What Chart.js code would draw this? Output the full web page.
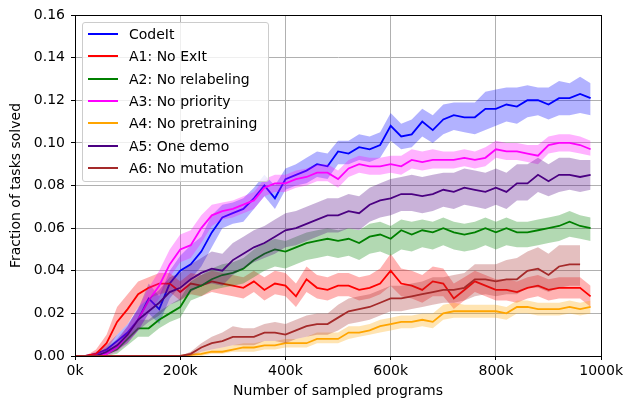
<!DOCTYPE html>
<html>
<head>
<meta charset="utf-8">
<script src="https://cdn.jsdelivr.net/npm/chart.js@4.4.1/dist/chart.umd.min.js"></script>
<style>
  body { margin: 0; background: #fff; }
  #wrap { position: relative; width: 626px; height: 400px; }
  #legend {
    position: absolute; left: 82px; top: 22px; width: 187px; height: 160px;
    background: rgba(255,255,255,0.8); border: 1px solid #cccccc; border-radius: 3px;
    font: 14px "DejaVu Sans", sans-serif; color: #000; box-sizing: border-box;
  }
  .row { position: absolute; left: 0; height: 17px; line-height: 17px; white-space: nowrap; }
  .row span.h { position: absolute; left: 5px; top: 7px; width: 30px; height: 2px; }
  .row span.t { position: absolute; left: 46px; top: 0; }
</style>
</head>
<body>
<div id="wrap">
  <canvas id="myChart" width="626" height="400"></canvas>
  <div id="legend"></div>
</div>
<script>
// sampled programs, in thousands
const steps = [0, 20, 40, 60, 80, 100, 120, 140, 160, 180, 200, 220, 240, 260, 280, 300, 320, 340, 360, 380,
  400, 420, 440, 460, 480, 500, 520, 540, 560, 580, 600, 620, 640, 660, 680, 700, 720, 740, 760, 780,
  800, 820, 840, 860, 880, 900, 920, 940, 960, 980];
const xTickLabels = ['0k', '200k', '400k', '600k', '800k', '1000k'];

const names = ['CodeIt', 'A1: No ExIt', 'A2: No relabeling', 'A3: No priority', 'A4: No pretraining', 'A5: One demo', 'A6: No mutation'];
const colors = ['#0000ff', '#ff0000', '#008000', '#ff00ff', '#ffa500', '#4b0082', '#a52a2a'];

// CodeIt
const codeit = [0, 0, 0.001, 0.003, 0.007, 0.011, 0.017, 0.027, 0.022, 0.034, 0.040, 0.043, 0.049, 0.058, 0.065, 0.067, 0.069, 0.074, 0.080, 0.074,
  0.083, 0.085, 0.087, 0.090, 0.089, 0.096, 0.095, 0.098, 0.097, 0.099, 0.108, 0.103, 0.104, 0.110, 0.106, 0.111, 0.113, 0.112, 0.112, 0.116,
  0.116, 0.118, 0.117, 0.120, 0.120, 0.118, 0.121, 0.121, 0.123, 0.121];
const codeitLo = [0, 0, 0, 0.001, 0.004, 0.007, 0.012, 0.020, 0.015, 0.027, 0.033, 0.036, 0.042, 0.051, 0.060, 0.062, 0.063, 0.069, 0.075, 0.069,
  0.078, 0.080, 0.081, 0.084, 0.083, 0.090, 0.090, 0.092, 0.091, 0.093, 0.101, 0.097, 0.098, 0.103, 0.100, 0.104, 0.106, 0.105, 0.104, 0.106,
  0.108, 0.110, 0.109, 0.112, 0.113, 0.111, 0.113, 0.113, 0.114, 0.113];
const codeitHi = [0, 0, 0.002, 0.005, 0.010, 0.015, 0.022, 0.034, 0.028, 0.040, 0.047, 0.052, 0.056, 0.066, 0.071, 0.072, 0.074, 0.079, 0.085, 0.080,
  0.088, 0.090, 0.093, 0.096, 0.095, 0.101, 0.101, 0.104, 0.103, 0.105, 0.114, 0.109, 0.111, 0.116, 0.113, 0.118, 0.119, 0.119, 0.119, 0.124,
  0.125, 0.126, 0.126, 0.127, 0.126, 0.126, 0.129, 0.128, 0.131, 0.128];

// A1: No ExIt
const noExit = [0, 0, 0.001, 0.006, 0.016, 0.022, 0.029, 0.032, 0.034, 0.034, 0.030, 0.034, 0.033, 0.035, 0.034, 0.033, 0.032, 0.035, 0.031, 0.034,
  0.033, 0.028, 0.036, 0.032, 0.031, 0.033, 0.033, 0.031, 0.032, 0.034, 0.040, 0.034, 0.033, 0.031, 0.035, 0.034, 0.027, 0.031, 0.035, 0.033,
  0.031, 0.031, 0.030, 0.032, 0.033, 0.031, 0.032, 0.032, 0.032, 0.028];
const noExitLo = [0, 0, 0, 0.003, 0.010, 0.015, 0.023, 0.027, 0.029, 0.030, 0.026, 0.029, 0.028, 0.030, 0.029, 0.028, 0.027, 0.030, 0.026, 0.029,
  0.028, 0.023, 0.030, 0.027, 0.026, 0.028, 0.028, 0.026, 0.027, 0.029, 0.033, 0.028, 0.027, 0.025, 0.028, 0.028, 0.022, 0.026, 0.030, 0.028,
  0.026, 0.026, 0.025, 0.027, 0.028, 0.026, 0.027, 0.027, 0.027, 0.023];
const noExitHi = [0, 0, 0.003, 0.010, 0.023, 0.029, 0.035, 0.037, 0.039, 0.039, 0.035, 0.039, 0.038, 0.040, 0.039, 0.038, 0.037, 0.040, 0.037, 0.040,
  0.039, 0.034, 0.042, 0.038, 0.037, 0.039, 0.039, 0.037, 0.038, 0.041, 0.048, 0.041, 0.040, 0.038, 0.042, 0.041, 0.034, 0.037, 0.040, 0.038,
  0.036, 0.036, 0.035, 0.037, 0.038, 0.036, 0.037, 0.037, 0.037, 0.033];

// A2: No relabeling
const noRelabel = [0, 0, 0, 0.001, 0.003, 0.008, 0.013, 0.013, 0.017, 0.020, 0.023, 0.031, 0.033, 0.036, 0.038, 0.039, 0.041, 0.045, 0.048, 0.050,
  0.049, 0.051, 0.053, 0.054, 0.055, 0.054, 0.055, 0.053, 0.056, 0.057, 0.055, 0.059, 0.057, 0.059, 0.058, 0.060, 0.058, 0.057, 0.058, 0.060,
  0.058, 0.060, 0.058, 0.058, 0.059, 0.060, 0.061, 0.063, 0.061, 0.060];
const noRelabelLo = [0, 0, 0, 0, 0.001, 0.005, 0.009, 0.009, 0.013, 0.016, 0.018, 0.026, 0.028, 0.031, 0.032, 0.033, 0.034, 0.037, 0.040, 0.042,
  0.041, 0.043, 0.045, 0.046, 0.047, 0.046, 0.047, 0.045, 0.048, 0.049, 0.047, 0.050, 0.049, 0.051, 0.050, 0.052, 0.050, 0.049, 0.050, 0.052,
  0.050, 0.052, 0.051, 0.051, 0.052, 0.053, 0.054, 0.056, 0.055, 0.054];
const noRelabelHi = [0, 0, 0, 0.002, 0.005, 0.011, 0.017, 0.017, 0.021, 0.024, 0.027, 0.035, 0.038, 0.041, 0.043, 0.044, 0.046, 0.050, 0.053, 0.055,
  0.054, 0.056, 0.058, 0.059, 0.060, 0.059, 0.060, 0.059, 0.062, 0.063, 0.061, 0.064, 0.063, 0.064, 0.063, 0.065, 0.063, 0.062, 0.063, 0.065,
  0.063, 0.065, 0.063, 0.063, 0.064, 0.065, 0.066, 0.068, 0.066, 0.065];

// A3: No priority
const noPriority = [0, 0, 0, 0.001, 0.004, 0.010, 0.017, 0.026, 0.033, 0.043, 0.050, 0.052, 0.060, 0.066, 0.068, 0.069, 0.071, 0.073, 0.079, 0.081,
  0.081, 0.083, 0.084, 0.086, 0.086, 0.083, 0.088, 0.090, 0.089, 0.089, 0.090, 0.089, 0.092, 0.091, 0.092, 0.092, 0.092, 0.093, 0.092, 0.093,
  0.097, 0.096, 0.096, 0.095, 0.094, 0.099, 0.100, 0.100, 0.099, 0.097];
const noPriorityLo = [0, 0, 0, 0, 0.002, 0.006, 0.012, 0.020, 0.027, 0.037, 0.044, 0.046, 0.053, 0.061, 0.064, 0.065, 0.067, 0.069, 0.075, 0.077,
  0.077, 0.079, 0.080, 0.082, 0.082, 0.079, 0.084, 0.086, 0.085, 0.085, 0.086, 0.085, 0.088, 0.087, 0.088, 0.088, 0.088, 0.089, 0.088, 0.089,
  0.093, 0.092, 0.092, 0.091, 0.090, 0.095, 0.096, 0.096, 0.095, 0.094];
const noPriorityHi = [0, 0, 0.001, 0.003, 0.007, 0.014, 0.022, 0.032, 0.040, 0.050, 0.057, 0.059, 0.066, 0.071, 0.072, 0.073, 0.075, 0.077, 0.083, 0.085,
  0.085, 0.087, 0.088, 0.090, 0.090, 0.087, 0.092, 0.094, 0.093, 0.093, 0.094, 0.094, 0.097, 0.096, 0.097, 0.096, 0.096, 0.097, 0.096, 0.098,
  0.101, 0.100, 0.100, 0.099, 0.099, 0.103, 0.104, 0.104, 0.103, 0.101];

// A4: No pretraining
const noPretrain = [0, 0, 0, 0, 0, 0, 0, 0, 0, 0, 0, 0.0005, 0.001, 0.002, 0.002, 0.003, 0.004, 0.004, 0.005, 0.005,
  0.006, 0.006, 0.006, 0.008, 0.008, 0.008, 0.011, 0.011, 0.012, 0.014, 0.015, 0.016, 0.016, 0.017, 0.016, 0.020, 0.021, 0.021, 0.021, 0.021,
  0.021, 0.020, 0.023, 0.023, 0.022, 0.022, 0.022, 0.023, 0.022, 0.023];
const noPretrainLo = [0, 0, 0, 0, 0, 0, 0, 0, 0, 0, 0, 0, 0, 0.001, 0.001, 0.002, 0.002, 0.002, 0.003, 0.003,
  0.004, 0.004, 0.004, 0.006, 0.006, 0.006, 0.008, 0.009, 0.010, 0.011, 0.012, 0.013, 0.013, 0.014, 0.013, 0.017, 0.018, 0.018, 0.018, 0.018,
  0.018, 0.017, 0.020, 0.020, 0.019, 0.019, 0.019, 0.020, 0.019, 0.020];
const noPretrainHi = [0, 0, 0, 0, 0, 0, 0, 0, 0, 0, 0, 0.001, 0.002, 0.003, 0.004, 0.005, 0.006, 0.006, 0.007, 0.007,
  0.008, 0.008, 0.009, 0.011, 0.011, 0.011, 0.014, 0.014, 0.015, 0.017, 0.018, 0.019, 0.019, 0.020, 0.020, 0.024, 0.025, 0.024, 0.024, 0.024,
  0.024, 0.023, 0.026, 0.026, 0.025, 0.025, 0.025, 0.026, 0.025, 0.026];

// A5: One demo
const oneDemo = [0, 0, 0, 0.002, 0.005, 0.010, 0.017, 0.021, 0.025, 0.030, 0.032, 0.036, 0.039, 0.041, 0.040, 0.045, 0.048, 0.051, 0.053, 0.056,
  0.059, 0.060, 0.062, 0.064, 0.066, 0.066, 0.068, 0.067, 0.071, 0.073, 0.074, 0.076, 0.076, 0.075, 0.076, 0.078, 0.077, 0.079, 0.078, 0.077,
  0.079, 0.077, 0.081, 0.081, 0.085, 0.082, 0.085, 0.085, 0.084, 0.085];
const oneDemoLo = [0, 0, 0, 0.001, 0.003, 0.006, 0.012, 0.016, 0.019, 0.024, 0.026, 0.030, 0.033, 0.034, 0.033, 0.038, 0.041, 0.044, 0.046, 0.048,
  0.051, 0.052, 0.054, 0.056, 0.058, 0.058, 0.060, 0.059, 0.063, 0.065, 0.066, 0.068, 0.068, 0.067, 0.068, 0.070, 0.069, 0.071, 0.070, 0.069,
  0.071, 0.069, 0.073, 0.073, 0.077, 0.075, 0.077, 0.078, 0.077, 0.078];
const oneDemoHi = [0, 0, 0.001, 0.004, 0.008, 0.014, 0.023, 0.027, 0.031, 0.037, 0.039, 0.043, 0.046, 0.049, 0.048, 0.053, 0.056, 0.059, 0.061, 0.064,
  0.067, 0.068, 0.070, 0.072, 0.074, 0.074, 0.076, 0.075, 0.079, 0.081, 0.083, 0.084, 0.085, 0.084, 0.085, 0.086, 0.086, 0.088, 0.087, 0.086,
  0.088, 0.086, 0.090, 0.090, 0.093, 0.090, 0.093, 0.093, 0.092, 0.092];

// A6: No mutation (stops before 980k)
const noMutation = [0, 0, 0, 0, 0, 0, 0, 0, 0, 0, 0, 0.001, 0.004, 0.006, 0.007, 0.009, 0.009, 0.009, 0.011, 0.011,
  0.010, 0.012, 0.014, 0.015, 0.015, 0.018, 0.021, 0.022, 0.023, 0.025, 0.027, 0.027, 0.028, 0.029, 0.030, 0.031, 0.031, 0.032, 0.036, 0.036,
  0.035, 0.036, 0.036, 0.040, 0.041, 0.038, 0.042, 0.043, 0.043, null];
const noMutationLo = [0, 0, 0, 0, 0, 0, 0, 0, 0, 0, 0, 0, 0.002, 0.003, 0.004, 0.005, 0.005, 0.005, 0.007, 0.007,
  0.006, 0.008, 0.009, 0.010, 0.010, 0.012, 0.015, 0.016, 0.017, 0.019, 0.021, 0.021, 0.022, 0.023, 0.024, 0.025, 0.025, 0.026, 0.028, 0.029,
  0.028, 0.029, 0.029, 0.032, 0.032, 0.030, 0.032, 0.033, 0.033, null];
const noMutationHi = [0, 0, 0, 0, 0, 0, 0, 0, 0, 0, 0, 0.002, 0.006, 0.009, 0.011, 0.014, 0.013, 0.013, 0.015, 0.016,
  0.015, 0.017, 0.019, 0.020, 0.020, 0.024, 0.027, 0.028, 0.029, 0.031, 0.033, 0.033, 0.034, 0.035, 0.037, 0.037, 0.038, 0.039, 0.043, 0.043,
  0.043, 0.045, 0.046, 0.049, 0.051, 0.048, 0.052, 0.052, 0.052, null];

const lines = [codeit, noExit, noRelabel, noPriority, noPretrain, oneDemo, noMutation];
const lows = [codeitLo, noExitLo, noRelabelLo, noPriorityLo, noPretrainLo, oneDemoLo, noMutationLo];
const highs = [codeitHi, noExitHi, noRelabelHi, noPriorityHi, noPretrainHi, oneDemoHi, noMutationHi];

function pts(arr) {
  return steps.map((x, i) => ({ x: x, y: arr[i] }));
}
function alpha(hex, a) {
  const n = parseInt(hex.slice(1), 16);
  return `rgba(${n >> 16},${(n >> 8) & 255},${n & 255},${a})`;
}

// later series drawn on top, like matplotlib
const datasets = [];
lines.forEach((arr, i) => {
  const ord = 30 - 3 * i;
  datasets.push({ data: pts(lows[i]), borderWidth: 0, pointRadius: 0, fill: false, order: ord + 1 });
  datasets.push({ data: pts(highs[i]), borderWidth: 0, pointRadius: 0, fill: '-1',
    backgroundColor: alpha(colors[i], 0.3), order: ord + 1 });
  datasets.push({ label: names[i], data: pts(arr), borderColor: colors[i], borderWidth: 1.8,
    pointRadius: 0, fill: false, tension: 0, order: ord });
});

// matplotlib style box around the axes
const frame = {
  id: 'frame',
  afterDraw(chart) {
    const { ctx, chartArea: a } = chart;
    ctx.save();
    ctx.strokeStyle = '#000';
    ctx.lineWidth = 1;
    ctx.strokeRect(Math.round(a.left) + 0.5, Math.round(a.top) + 0.5,
      Math.round(a.right - a.left), Math.round(a.bottom - a.top));
    ctx.restore();
  }
};

Chart.defaults.font.family = '"DejaVu Sans", sans-serif';
Chart.defaults.font.size = 14;
Chart.defaults.color = '#000';

const ctx = document.getElementById('myChart');
const myChart = new Chart(ctx, {
  type: 'line',
  data: { datasets: datasets },
  options: {
    responsive: false,
    animation: false,
    devicePixelRatio: 1,
    layout: { padding: { left: 0, top: 15, right: 23, bottom: 0 } },
    plugins: { legend: { display: false }, tooltip: { enabled: false } },
    scales: {
      x: {
        type: 'linear', min: 0, max: 1000,
        afterFit(s) { s.height = 44; },
        ticks: { stepSize: 200, padding: 3, maxRotation: 0,
          callback: (v, i) => xTickLabels[i] },
        grid: { color: '#b0b0b0', lineWidth: 1, tickLength: 4, tickColor: '#000' },
        border: { color: '#000' },
        title: { display: true, text: 'Number of sampled programs', padding: { top: 0, bottom: 0 } }
      },
      y: {
        min: 0, max: 0.16,
        afterFit(s) { s.width = 75; },
        ticks: { stepSize: 0.02, padding: 6, callback: v => v.toFixed(2) },
        grid: { color: '#b0b0b0', lineWidth: 1, tickLength: 4, tickColor: '#000' },
        border: { color: '#000' },
        title: { display: true, text: 'Fraction of tasks solved', padding: { top: 8, bottom: 0 } }
      }
    }
  },
  plugins: [frame]
});

// legend drawn as html over the plot, like matplotlib upper left
const legend = document.getElementById('legend');
names.forEach((n, i) => {
  const row = document.createElement('div');
  row.className = 'row';
  row.style.top = (3 + i * 22.3) + 'px';
  row.style.width = '100%';
  row.innerHTML = `<span class="h" style="background:${colors[i]}"></span><span class="t">${n}</span>`;
  legend.appendChild(row);
});
</script>
</body>
</html>
